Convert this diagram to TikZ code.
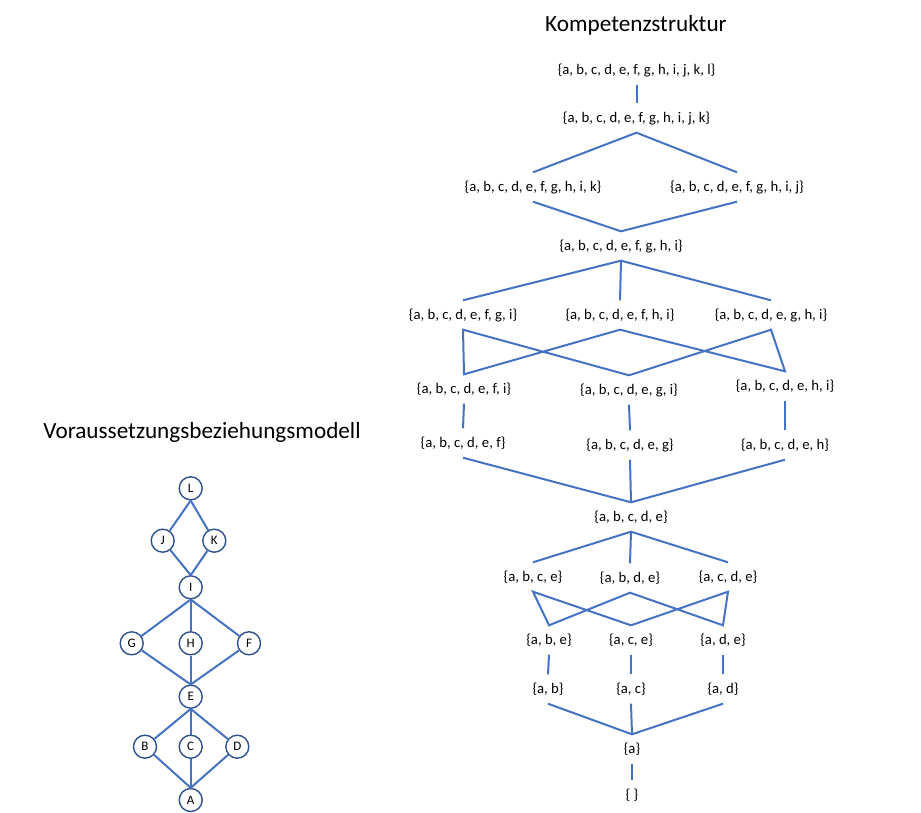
\documentclass[tikz,border=0pt]{standalone}
\usepackage{fontspec}
\setmainfont{Carlito}
\definecolor{lineblue}{HTML}{4472C4}
\definecolor{circblue}{HTML}{2F528F}
\begin{document}
\begin{tikzpicture}[x=1pt,y=-1pt,
  setlabel/.style={inner sep=0pt, minimum height=29pt, font=\fontsize{14.7}{17}\selectfont},
  titlelabel/.style={inner sep=0pt, font=\fontsize{23.2}{28}\selectfont},
  elem/.style={circle, draw=circblue, line width=1.4pt, fill=white, minimum size=23pt, inner sep=0pt, font=\fontsize{13}{15}\selectfont},
  link/.style={draw=lineblue, line width=2pt}]
\useasboundingbox (0,0) rectangle (921,813);
% titles
\node[titlelabel] (t1) at (636,25) {Kompetenzstruktur};
\node[titlelabel] (t2) at (202,432) {Voraussetzungsbeziehungsmodell};
% right structure
\node[setlabel] (r0) at (636.5,70) {\{a, b, c, d, e, f, g, h, i, j, k, l\}};
\node[setlabel] (r1) at (636.5,118) {\{a, b, c, d, e, f, g, h, i, j, k\}};
\node[setlabel] (r2a) at (533,187) {\{a, b, c, d, e, f, g, h, i, k\}};
\node[setlabel] (r2b) at (737,187) {\{a, b, c, d, e, f, g, h, i, j\}};
\node[setlabel] (r3) at (621,246) {\{a, b, c, d, e, f, g, h, i\}};
\node[setlabel] (r4a) at (463,315) {\{a, b, c, d, e, f, g, i\}};
\node[setlabel] (r4b) at (620,315) {\{a, b, c, d, e, f, h, i\}};
\node[setlabel] (r4c) at (771,315) {\{a, b, c, d, e, g, h, i\}};
\node[setlabel] (r5a) at (464,389) {\{a, b, c, d, e, f, i\}};
\node[setlabel] (r5b) at (629,390) {\{a, b, c, d, e, g, i\}};
\node[setlabel] (r5c) at (785,386) {\{a, b, c, d, e, h, i\}};
\node[setlabel] (r6a) at (463,443) {\{a, b, c, d, e, f\}};
\node[setlabel] (r6b) at (630,445) {\{a, b, c, d, e, g\}};
\node[setlabel] (r6c) at (785,445) {\{a, b, c, d, e, h\}};
\node[setlabel] (r7) at (631,517) {\{a, b, c, d, e\}};
\node[setlabel] (r8a) at (533,577) {\{a, b, c, e\}};
\node[setlabel] (r8b) at (630,578) {\{a, b, d, e\}};
\node[setlabel] (r8c) at (728,577) {\{a, c, d, e\}};
\node[setlabel] (r9a) at (549,640) {\{a, b, e\}};
\node[setlabel] (r9b) at (631,640) {\{a, c, e\}};
\node[setlabel] (r9c) at (723,640) {\{a, d, e\}};
\node[setlabel] (r10a) at (548,689) {\{a, b\}};
\node[setlabel] (r10b) at (631,689) {\{a, c\}};
\node[setlabel] (r10c) at (723,689) {\{a, d\}};
\node[setlabel] (r11) at (632,749) {\{a\}};
\node[setlabel] (r12) at (632,795) {\{ \}};
\path[link] (r0.south) -- (r1.north);
\path[link] (r2a.north) -- (r1.south) -- (r2b.north);
\path[link] (r2a.south) -- (r3.north) -- (r2b.south);
\path[link] (r4a.north) -- (r3.south) -- (r4c.north);
\path[link] (r3.south) -- (r4b.north);
\path[link] (r5b.north) -- (r4a.south) -- (r5a.north) -- (r4b.south) -- (r5c.north) -- (r4c.south) -- (r5b.north);
\path[link] (r5a.south) -- (r6a.north);
\path[link] (r5b.south) -- (r6b.north);
\path[link] (r5c.south) -- (r6c.north);
\path[link] (r6a.south) -- (r7.north) -- (r6c.south);
\path[link] (r6b.south) -- (r7.north);
\path[link] (r8a.north) -- (r7.south) -- (r8c.north);
\path[link] (r7.south) -- (r8b.north);
\path[link] (r9b.north) -- (r8a.south) -- (r9a.north) -- (r8b.south) -- (r9c.north) -- (r8c.south) -- (r9b.north);
\path[link] (r9a.south) -- (r10a.north);
\path[link] (r9b.south) -- (r10b.north);
\path[link] (r9c.south) -- (r10c.north);
\path[link] (r10a.south) -- (r11.north) -- (r10c.south);
\path[link] (r10b.south) -- (r11.north);
\path[link] (r11.south) -- (r12.north);
% left graph
\node[elem] (L) at (190.7,488.3) {L};
\node[elem] (J) at (162.7,540.7) {J};
\node[elem] (K) at (214.3,540.7) {K};
\node[elem] (I) at (190.7,587.3) {I};
\node[elem] (G) at (131.7,643.3) {G};
\node[elem] (H) at (190.7,643.3) {H};
\node[elem] (F) at (249,643.3) {F};
\node[elem] (E) at (190.7,696.7) {E};
\node[elem] (B) at (145,746.7) {B};
\node[elem] (C) at (190.7,746.7) {C};
\node[elem] (D) at (237.3,746.7) {D};
\node[elem] (A) at (190.7,800) {A};
\path[link] (L.south) -- (J);
\path[link] (L.south) -- (K);
\path[link] (J) -- (I.north);
\path[link] (K) -- (I.north);
\path[link] (I.south) -- (G);
\path[link] (I.south) -- (H.north);
\path[link] (I.south) -- (F);
\path[link] (G) -- (E.north);
\path[link] (H.south) -- (E.north);
\path[link] (F) -- (E.north);
\path[link] (E.south) -- (B);
\path[link] (E.south) -- (C.north);
\path[link] (E.south) -- (D);
\path[link] (B) -- (A.north);
\path[link] (C.south) -- (A.north);
\path[link] (D) -- (A.north);
\end{tikzpicture}
\end{document}
